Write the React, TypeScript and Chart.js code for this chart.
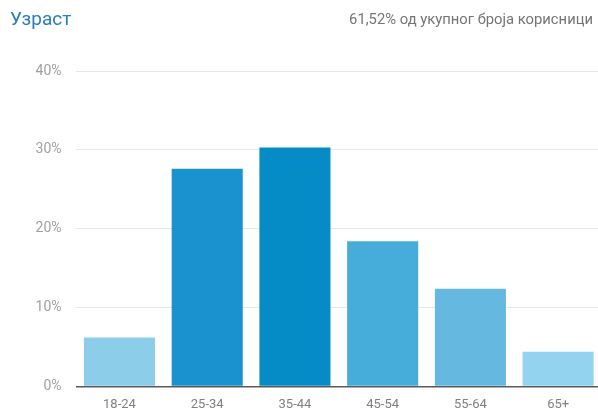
import React, { useEffect, useRef } from "react";
import { Chart, registerables } from "chart.js";

Chart.register(...registerables);

const categories = ["18-24", "25-34", "35-44", "45-54", "55-64", "65+"];
const values = [6.2, 27.6, 30.3, 18.4, 12.4, 4.4];
const barColors = ["#8ccdea", "#1a92cf", "#058bc6", "#46acd9", "#65b8e0", "#93d3ef"];
const yTicks = [0, 10, 20, 30, 40];
const titleText = "Узраст";
const subtitleText = "61,52% од укупног броја корисници";

export default function App() {
  const ref = useRef<HTMLCanvasElement | null>(null);

  useEffect(() => {
    document.body.style.margin = "0";
    document.body.style.overflow = "hidden";
    if (!ref.current) return;
    const chart = new Chart(ref.current, {
      type: "bar",
      data: {
        labels: categories,
        datasets: [
          {
            data: values,
            backgroundColor: barColors,
            borderWidth: 0,
            categoryPercentage: 1,
            barPercentage: 0.81,
          },
        ],
      },
      options: {
        animation: false,
        responsive: false,
        maintainAspectRatio: false,
        layout: { padding: { top: 71, left: 0, right: 0, bottom: 0 } },
        plugins: {
          legend: { display: false },
          tooltip: { enabled: false },
          title: { display: false },
        },
        scales: {
          x: {
            grid: { display: false, drawTicks: false },
            border: { display: false },
            ticks: {
              color: "#808080",
              font: { family: "Roboto", size: 13 },
              padding: 10,
            },
            afterFit: (scale: any) => {
              scale.height = 23.5;
            },
          },
          y: {
            min: 0,
            max: 40,
            afterBuildTicks: (scale: any) => {
              scale.ticks = yTicks.map((v) => ({ value: v }));
            },
            border: { display: false },
            grid: {
              drawTicks: false,
              color: (ctx: any) => (ctx.tick && ctx.tick.value === 0 ? "#5a5a5a" : "#e6e6e6"),
              lineWidth: (ctx: any) => (ctx.tick && ctx.tick.value === 0 ? 1.6 : 1),
            },
            ticks: {
              color: "#a0a0a0",
              font: { family: "Roboto", size: 14 },
              padding: 14,
              callback: (v: any) => v + "%",
            },
            afterFit: (scale: any) => {
              scale.width = 75.6;
            },
          },
        },
      },
    });
    return () => chart.destroy();
  }, []);

  return (
    <div style={{ position: "relative", width: 598, height: 410, overflow: "hidden", fontFamily: "Roboto" }}>
      <canvas ref={ref} width={602} height={410} style={{ position: "absolute", left: 0, top: 0, width: 602, height: 410 }} />
      <div style={{ position: "absolute", left: 10, top: 8, fontSize: 19, color: "#2b7bbd", lineHeight: "22px" }}>
        {titleText}
      </div>
      <div style={{ position: "absolute", right: 5, top: 9, fontSize: 14.8, color: "#757575", lineHeight: "20px" }}>
        {subtitleText}
      </div>
    </div>
  );
}
